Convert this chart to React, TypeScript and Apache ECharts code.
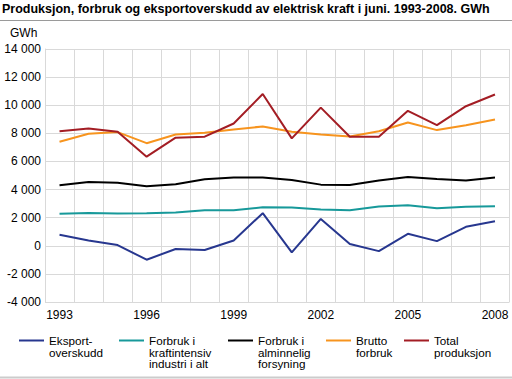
import React, { useEffect, useRef } from "react";
import * as echarts from "echarts";

const years = ["1993","1994","1995","1996","1997","1998","1999","2000","2001","2002","2003","2004","2005","2006","2007","2008"];
const eksport = [780, 380, 50, -990, -230, -300, 380, 2320, -470, 1910, 120, -380, 850, 330, 1350, 1750];
const kraftintensiv = [2270, 2340, 2300, 2320, 2370, 2530, 2530, 2740, 2720, 2580, 2530, 2790, 2890, 2670, 2770, 2810];
const alminnelig = [4300, 4540, 4490, 4230, 4370, 4730, 4850, 4850, 4680, 4350, 4330, 4640, 4890, 4750, 4640, 4850];
const brutto = [7400, 7970, 8090, 7300, 7920, 8040, 8270, 8490, 8110, 7920, 7780, 8150, 8770, 8230, 8580, 8980];
const total = [8150, 8340, 8110, 6340, 7690, 7760, 8700, 10800, 7640, 9830, 7760, 7750, 9600, 8580, 9930, 10760];

const seriesNames = ["Eksport-\noverskudd", "Forbruk i\nkraftintensiv\nindustri i alt", "Forbruk i\nalminnelig\nforsyning", "Brutto\nforbruk", "Total\nproduksjon"];
const seriesData = [eksport, kraftintensiv, alminnelig, brutto, total];
const colors = ["#27378f", "#17999a", "#000000", "#f7941e", "#a31d24"];
const legendX = [19, 119, 228, 326, 404];

const FONT = "'Liberation Sans', Arial, sans-serif";

function fmt(v: number) {
  const s = Math.abs(v).toString().replace(/\B(?=(\d{3})+(?!\d))/g, " ");
  return (v < 0 ? "-" : "") + s;
}

export default function App() {
  const ref = useRef<HTMLDivElement>(null);
  useEffect(() => {
    if (!ref.current) return;
    const chart = echarts.init(ref.current, null, { renderer: "svg" });
    const graphic: any[] = [
      { type: "text", left: 2, top: 2, style: { text: "Produksjon, forbruk og eksportoverskudd av elektrisk kraft i juni. 1993-2008. GWh", font: "bold 12.5px " + FONT, fill: "#000" } },
      { type: "line", shape: { x1: 0, y1: 20.5, x2: 512, y2: 20.5 }, style: { stroke: "#9a9a9a", lineWidth: 1 } },
      { type: "text", x: 10, y: 27, style: { text: "GWh", font: "12px " + FONT, fill: "#000" } },
      { type: "line", shape: { x1: 0, y1: 377.5, x2: 512, y2: 377.5 }, style: { stroke: "#cccccc", lineWidth: 2 } },
    ];
    seriesNames.forEach((n, i) => {
      graphic.push({ type: "line", shape: { x1: legendX[i], y1: 340.5, x2: legendX[i] + 25, y2: 340.5 }, style: { stroke: colors[i], lineWidth: 2 } });
      n.split("\n").forEach((line, j) => {
        graphic.push({ type: "text", x: legendX[i] + 30, y: 334.5 + j * 11.7, style: { text: line, font: "11.7px " + FONT, fill: "#000" } });
      });
    });
    chart.setOption({
      animation: false,
      textStyle: { fontFamily: FONT },
      grid: { left: 45, right: 2.5, top: 49, bottom: 77, containLabel: false },
      xAxis: {
        type: "category",
        data: years,
        boundaryGap: true,
        axisLine: { show: false },
        axisTick: { show: false },
        axisLabel: { interval: (idx: number) => idx % 3 === 0, color: "#000", fontSize: 12, margin: 7, fontFamily: FONT },
        splitLine: { show: true, interval: 0, lineStyle: { color: "#d9d9d9", width: 1 } },
      },
      yAxis: {
        type: "value",
        min: -4000,
        max: 14000,
        interval: 2000,
        axisLine: { show: true, lineStyle: { color: "#d9d9d9" } },
        axisTick: { show: false },
        axisLabel: { color: "#000", fontSize: 12, margin: 4, fontFamily: FONT, formatter: (v: number) => fmt(v) },
        splitLine: { show: true, lineStyle: { color: "#d9d9d9", width: 1 } },
      },
      graphic,
      series: seriesNames.map((n, i) => ({
        name: n,
        type: "line",
        data: seriesData[i],
        symbol: "none",
        lineStyle: { color: colors[i], width: 2 },
        itemStyle: { color: colors[i] },
        z: 2 + i,
      })),
    });
    return () => chart.dispose();
  }, []);
  return <div ref={ref} style={{ width: 512, height: 379, position: "absolute", left: 0, top: 0, background: "#fff" }} />;
}
